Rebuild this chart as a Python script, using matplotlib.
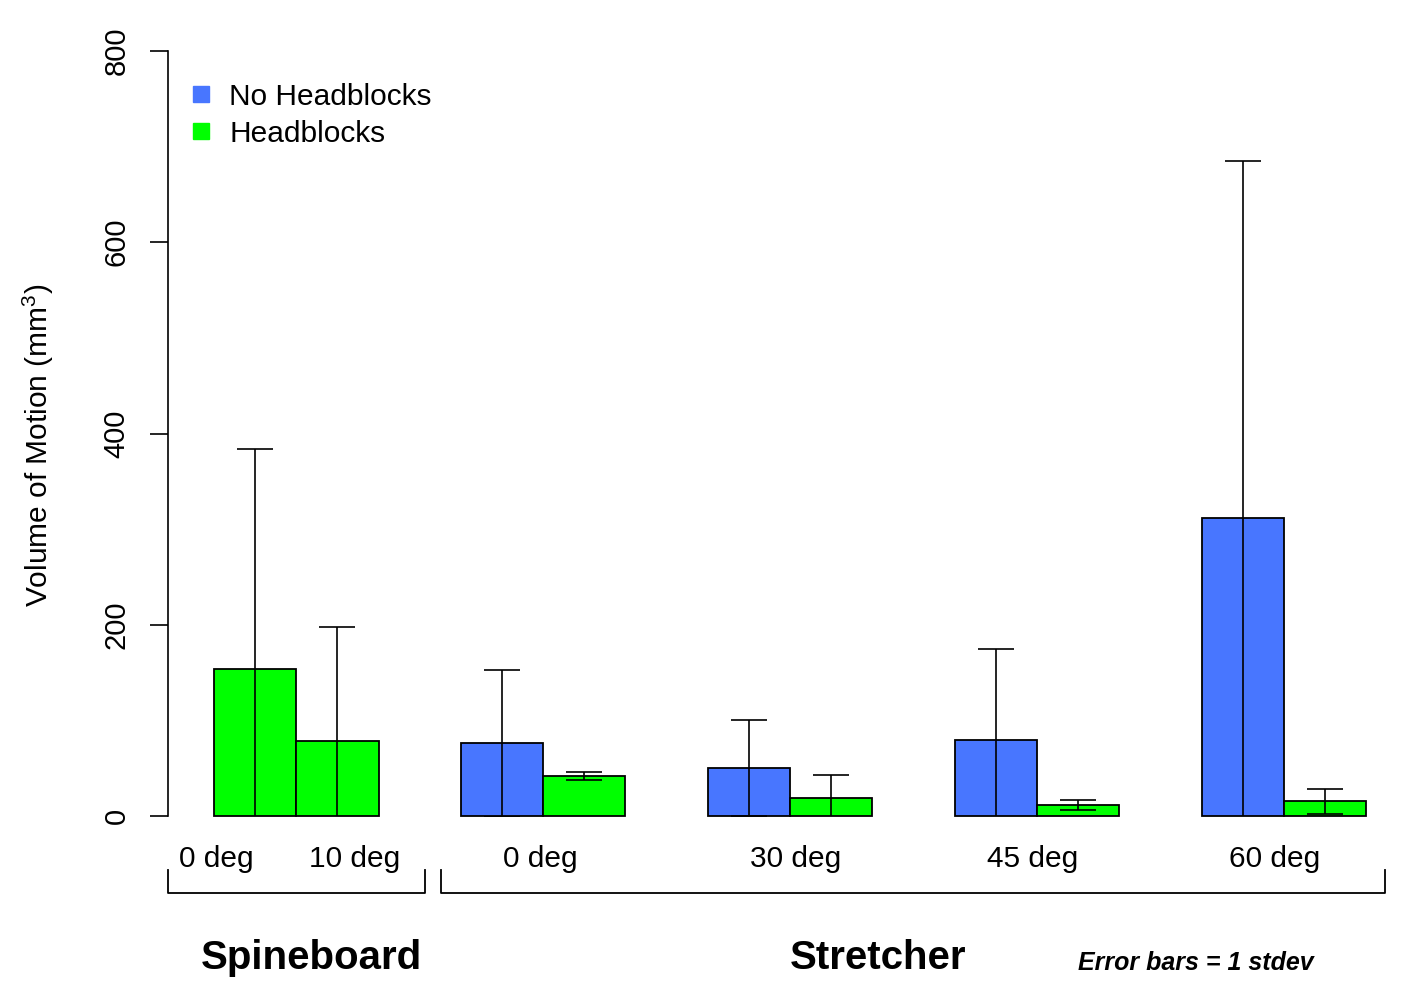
import numpy as np
import matplotlib
matplotlib.use('Agg')
import matplotlib.pyplot as plt
from matplotlib.lines import Line2D

plt.rcParams['font.family'] = ['Liberation Sans', 'DejaVu Sans']
plt.rcParams['mathtext.default'] = 'regular'

# values
spine_labels = ['0 deg', '10 deg']
spine_head = [154, 78]
spine_head_sd = [230, 120]

stretch_labels = ['0 deg', '30 deg', '45 deg', '60 deg']
stretch_nohead = [76, 50, 80, 312]
stretch_nohead_sd = [77, 50, 95, 373]
stretch_head = [42, 19, 11.5, 15.5]
stretch_head_sd = [4, 24, 5.2, 13]

BLUE = '#4876FF'
GREEN = '#00FF00'

fig = plt.figure(figsize=(14.17, 10.01), dpi=100)
ax = fig.add_axes([168 / 1417, 1 - 816 / 1001, (1390 - 168) / 1417, (816 - 51) / 1001])
ax.set_xlim(-0.559, 14.29)
ax.set_ylim(0, 800)

w = 1.0
spine_x = np.arange(len(spine_head)) + 0.5
blue_x = 3 + 3 * np.arange(len(stretch_nohead)) + 0.5
green_x = blue_x + 1

err_kw = dict(fmt='none', ecolor='black', elinewidth=1.2, capsize=13, capthick=1.2, zorder=3)

def draw(x, vals, sds, color):
    ax.bar(x, vals, width=w, color=color, edgecolor='black', linewidth=1.3, clip_on=False, zorder=2)
    ax.errorbar(x, vals, yerr=sds, **err_kw)

draw(spine_x, spine_head, spine_head_sd, GREEN)
draw(blue_x, stretch_nohead, stretch_nohead_sd, BLUE)
draw(green_x, stretch_head, stretch_head_sd, GREEN)

for s in ['top', 'right', 'bottom']:
    ax.spines[s].set_visible(False)
ax.spines['left'].set_linewidth(1.2)
ax.set_xticks([])
ax.set_yticks([0, 200, 400, 600, 800])
ax.tick_params(axis='y', length=13, width=1.2, labelsize=21, pad=14)
for t in ax.get_yticklabels():
    t.set_rotation(90)
    t.set_va('center')

ax.set_ylabel('Volume of Motion (mm$^{3}$)', fontsize=21.5)
ax.yaxis.set_label_coords(-0.092, 0.485)

# category labels
lab_y = -45
for xx, lab in zip([0.03, 1.71], spine_labels):
    ax.text(xx, lab_y, lab, ha='center', va='center', fontsize=21.5, clip_on=False)
for xx, lab, dx in zip(blue_x + 0.5, stretch_labels, [-0.03, 0.07, -0.05, -0.11]):
    ax.text(xx + dx, lab_y, lab, ha='center', va='center', fontsize=21.5, clip_on=False)

# brackets
def bracket(x0, x1):
    ax.add_line(Line2D([x0, x0, x1, x1], [-56, -80.5, -80.5, -56], color='black',
                       linewidth=1.3, clip_on=False))

bracket(-0.559, 2.564)
bracket(2.758, 14.23)

ax.text(1.18, -149, 'Spineboard', ha='center', va='center', fontsize=29, fontweight='bold', clip_on=False)
ax.text(8.07, -149, 'Stretcher', ha='center', va='center', fontsize=29, fontweight='bold', clip_on=False)
ax.text(11.93, -154, 'Error bars = 1 stdev', ha='center', va='center', fontsize=18,
        fontweight='bold', fontstyle='italic', clip_on=False)

handles = [Line2D([], [], marker='s', linestyle='none', markersize=11, color=BLUE),
           Line2D([], [], marker='s', linestyle='none', markersize=11, color=GREEN)]
ax.legend(handles, ['No Headblocks', 'Headblocks'], loc='upper left', bbox_to_anchor=(0.0, 0.986),
          frameon=False, fontsize=21.5, handlelength=0.8, handletextpad=0.55, labelspacing=0.3,
          borderaxespad=0.3)

fig.savefig('out.png', dpi=100)
